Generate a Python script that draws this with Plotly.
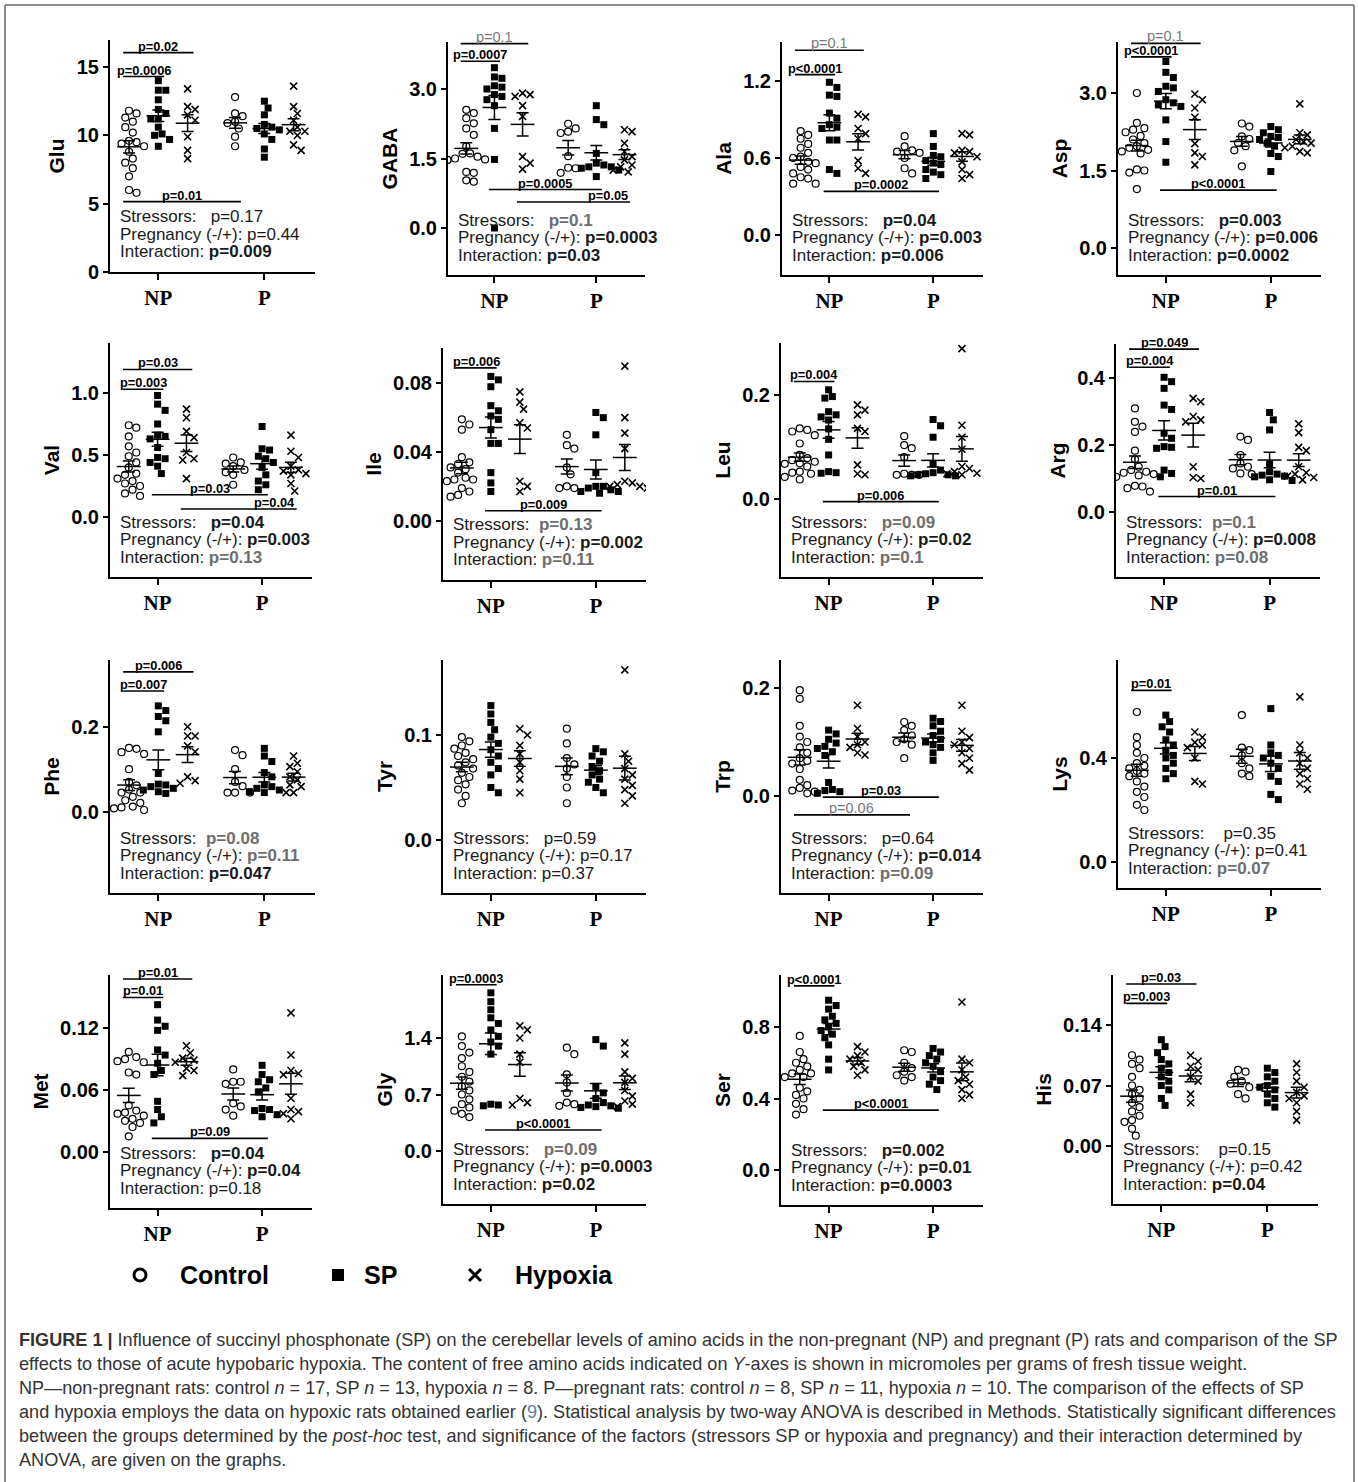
import numpy as np
import plotly.graph_objects as go

W, H = 1358, 1482
SANS = "Liberation Sans, Arial, sans-serif"
SERIF = "Liberation Serif, Times New Roman, serif"

# ---------------- categories / groups ----------------
GROUP_NAMES = ["NP Control", "NP SP", "NP Hypoxia", "P Control", "P SP", "P Hypoxia"]
GROUP_POS = [-1.0, 0.0, 1.0, 2.62, 3.62, 4.62]
CATEGORY_POS = [0.0, 3.62]
CATEGORY_LABELS = ["NP", "P"]
X_RANGE = [-1.65, 5.35]
AMINO = ["Glu", "GABA", "Ala", "Asp", "Val", "Ile", "Leu", "Arg",
         "Phe", "Tyr", "Trp", "Lys", "Met", "Gly", "Ser", "His"]

# ---------------- data: [NP ctrl, NP SP, NP hyp, P ctrl, P SP, P hyp] ----------------
glu = [
    [11.8, 11.6, 11.3, 11.0, 10.6, 10.2, 9.6, 9.5, 9.4, 9.2, 8.8, 8.3, 8.0, 7.6, 7.0, 6.0, 5.8],
    [14.0, 13.3, 13.3, 12.6, 11.9, 11.6, 11.2, 11.2, 10.6, 10.1, 10.0, 9.7, 9.2],
    [13.4, 12.1, 11.9, 11.5, 11.1, 9.9, 8.9, 8.3],
    [12.8, 11.6, 11.4, 11.0, 10.9, 10.5, 9.9, 9.2],
    [12.5, 12.0, 11.5, 10.8, 10.6, 10.5, 10.4, 10.1, 9.7, 9.0, 8.4],
    [13.6, 12.1, 11.6, 11.1, 10.6, 10.3, 10.3, 10.0, 9.3, 8.9],
]
gaba = [
    [2.55, 2.48, 2.37, 2.26, 2.15, 2.01, 1.76, 1.61, 1.60, 1.54, 1.50, 1.48, 1.47, 1.21, 1.19, 1.03, 1.00],
    [3.46, 3.26, 3.23, 3.07, 3.04, 3.00, 2.88, 2.84, 2.77, 2.64, 2.15, 1.48, 0.0],
    [2.91, 2.88, 2.84, 2.64, 2.41, 1.54, 1.40, 1.27],
    [2.25, 2.15, 2.08, 2.05, 1.55, 1.30, 1.29, 1.19],
    [2.64, 2.34, 2.23, 1.61, 1.40, 1.36, 1.32, 1.32, 1.29, 1.25, 1.11],
    [2.12, 2.08, 1.83, 1.65, 1.54, 1.47, 1.36, 1.32, 1.25, 1.21],
]
ala = [
    [0.81, 0.78, 0.75, 0.71, 0.68, 0.64, 0.61, 0.60, 0.57, 0.56, 0.53, 0.51, 0.48, 0.45, 0.44, 0.40, 0.40],
    [1.19, 1.15, 1.09, 1.08, 0.95, 0.91, 0.86, 0.84, 0.83, 0.74, 0.74, 0.51, 0.48],
    [0.94, 0.92, 0.83, 0.79, 0.75, 0.58, 0.52, 0.48],
    [0.77, 0.69, 0.66, 0.65, 0.64, 0.60, 0.52, 0.48],
    [0.79, 0.69, 0.62, 0.61, 0.58, 0.56, 0.55, 0.51, 0.49, 0.47, 0.44],
    [0.79, 0.78, 0.66, 0.65, 0.64, 0.61, 0.57, 0.51, 0.47, 0.44],
]
asp = [
    [3.00, 2.42, 2.32, 2.29, 2.24, 2.17, 2.10, 2.03, 1.97, 1.94, 1.90, 1.87, 1.83, 1.52, 1.50, 1.46, 1.14],
    [3.61, 3.40, 3.30, 3.13, 3.10, 3.03, 2.87, 2.81, 2.77, 2.74, 2.48, 2.06, 1.66],
    [2.98, 2.87, 2.71, 2.53, 2.02, 1.84, 1.77, 1.61],
    [2.41, 2.35, 2.16, 2.11, 2.03, 1.97, 1.89, 1.58],
    [2.35, 2.29, 2.23, 2.16, 2.14, 2.10, 2.03, 1.97, 1.83, 1.77, 1.48],
    [2.79, 2.23, 2.19, 2.10, 2.06, 2.03, 1.97, 1.94, 1.87, 1.84],
]
val = [
    [0.74, 0.72, 0.65, 0.57, 0.52, 0.49, 0.44, 0.40, 0.35, 0.34, 0.31, 0.29, 0.27, 0.25, 0.22, 0.19, 0.17],
    [0.98, 0.91, 0.86, 0.75, 0.66, 0.65, 0.63, 0.56, 0.48, 0.47, 0.44, 0.41, 0.35],
    [0.87, 0.80, 0.69, 0.64, 0.52, 0.47, 0.46, 0.31],
    [0.48, 0.44, 0.43, 0.41, 0.38, 0.36, 0.34, 0.26],
    [0.73, 0.55, 0.54, 0.49, 0.47, 0.44, 0.40, 0.34, 0.29, 0.26, 0.22],
    [0.66, 0.53, 0.48, 0.41, 0.38, 0.37, 0.35, 0.34, 0.27, 0.21],
]
ile = [
    [0.059, 0.056, 0.053, 0.037, 0.034, 0.033, 0.031, 0.030, 0.028, 0.025, 0.024, 0.024, 0.023, 0.019, 0.017, 0.015, 0.014],
    [0.084, 0.082, 0.078, 0.067, 0.064, 0.061, 0.059, 0.053, 0.045, 0.045, 0.028, 0.022, 0.017],
    [0.075, 0.069, 0.065, 0.057, 0.054, 0.023, 0.020, 0.017],
    [0.050, 0.044, 0.042, 0.031, 0.027, 0.020, 0.019, 0.019],
    [0.063, 0.060, 0.050, 0.028, 0.020, 0.020, 0.019, 0.018, 0.017, 0.017, 0.016],
    [0.090, 0.060, 0.051, 0.042, 0.023, 0.022, 0.021, 0.020, 0.020, 0.019],
]
leu = [
    [0.136, 0.133, 0.130, 0.123, 0.107, 0.085, 0.079, 0.075, 0.072, 0.069, 0.068, 0.063, 0.053, 0.051, 0.049, 0.043, 0.038],
    [0.210, 0.197, 0.194, 0.168, 0.162, 0.158, 0.152, 0.135, 0.115, 0.085, 0.053, 0.051, 0.050],
    [0.181, 0.171, 0.162, 0.136, 0.130, 0.066, 0.049, 0.047],
    [0.121, 0.104, 0.098, 0.081, 0.049, 0.047, 0.047, 0.047],
    [0.153, 0.141, 0.119, 0.068, 0.056, 0.051, 0.049, 0.047, 0.047, 0.045, 0.045],
    [0.289, 0.142, 0.119, 0.096, 0.063, 0.059, 0.053, 0.050, 0.049, 0.047],
]
arg = [
    [0.310, 0.270, 0.256, 0.240, 0.184, 0.158, 0.136, 0.126, 0.121, 0.118, 0.114, 0.110, 0.106, 0.079, 0.077, 0.072, 0.062],
    [0.403, 0.390, 0.370, 0.320, 0.307, 0.236, 0.221, 0.196, 0.194, 0.191, 0.126, 0.116, 0.106],
    [0.340, 0.330, 0.286, 0.276, 0.270, 0.136, 0.104, 0.101],
    [0.226, 0.216, 0.171, 0.146, 0.136, 0.131, 0.116, 0.114],
    [0.298, 0.276, 0.246, 0.144, 0.121, 0.114, 0.111, 0.108, 0.106, 0.097, 0.095],
    [0.264, 0.238, 0.194, 0.184, 0.136, 0.118, 0.114, 0.108, 0.104, 0.097],
]
phe = [
    [0.150, 0.148, 0.140, 0.136, 0.100, 0.070, 0.062, 0.052, 0.045, 0.045, 0.035, 0.027, 0.021, 0.012, 0.010, 0.008, 0.004],
    [0.249, 0.238, 0.224, 0.214, 0.188, 0.090, 0.065, 0.063, 0.059, 0.055, 0.051, 0.047, 0.043],
    [0.200, 0.178, 0.178, 0.155, 0.141, 0.082, 0.073, 0.067],
    [0.145, 0.133, 0.100, 0.070, 0.060, 0.045, 0.045, 0.045],
    [0.149, 0.131, 0.118, 0.092, 0.082, 0.063, 0.059, 0.055, 0.051, 0.047, 0.045],
    [0.131, 0.114, 0.106, 0.094, 0.082, 0.075, 0.063, 0.059, 0.045, 0.045],
]
tyr = [
    [0.098, 0.094, 0.090, 0.087, 0.083, 0.080, 0.077, 0.074, 0.071, 0.068, 0.064, 0.060, 0.057, 0.053, 0.048, 0.042, 0.035],
    [0.128, 0.120, 0.112, 0.105, 0.098, 0.092, 0.086, 0.080, 0.074, 0.068, 0.062, 0.050, 0.045],
    [0.106, 0.100, 0.090, 0.082, 0.074, 0.066, 0.058, 0.045],
    [0.106, 0.092, 0.078, 0.072, 0.068, 0.060, 0.050, 0.035],
    [0.087, 0.084, 0.080, 0.075, 0.070, 0.066, 0.062, 0.058, 0.055, 0.050, 0.045],
    [0.162, 0.082, 0.075, 0.068, 0.062, 0.058, 0.052, 0.048, 0.042, 0.035],
]
trp = [
    [0.196, 0.180, 0.130, 0.110, 0.100, 0.090, 0.080, 0.070, 0.065, 0.060, 0.050, 0.030, 0.020, 0.015, 0.010, 0.008, 0.005],
    [0.122, 0.115, 0.105, 0.098, 0.092, 0.088, 0.082, 0.075, 0.025, 0.012, 0.010, 0.008, 0.005],
    [0.168, 0.125, 0.110, 0.100, 0.095, 0.090, 0.080, 0.076],
    [0.137, 0.130, 0.122, 0.112, 0.105, 0.100, 0.095, 0.070],
    [0.144, 0.138, 0.130, 0.120, 0.112, 0.105, 0.100, 0.095, 0.090, 0.080, 0.066],
    [0.168, 0.120, 0.108, 0.100, 0.095, 0.088, 0.080, 0.070, 0.060, 0.048],
]
lys = [
    [0.577, 0.48, 0.45, 0.42, 0.40, 0.38, 0.37, 0.36, 0.35, 0.34, 0.33, 0.31, 0.29, 0.27, 0.25, 0.22, 0.20],
    [0.565, 0.54, 0.52, 0.50, 0.47, 0.45, 0.43, 0.41, 0.40, 0.38, 0.36, 0.34, 0.32],
    [0.50, 0.48, 0.46, 0.45, 0.44, 0.40, 0.31, 0.30],
    [0.565, 0.44, 0.43, 0.41, 0.38, 0.36, 0.34, 0.33],
    [0.59, 0.45, 0.42, 0.41, 0.40, 0.38, 0.36, 0.33, 0.31, 0.26, 0.24],
    [0.635, 0.45, 0.42, 0.40, 0.38, 0.36, 0.34, 0.32, 0.30, 0.28],
]
met = [
    [0.097, 0.092, 0.090, 0.088, 0.087, 0.077, 0.075, 0.045, 0.040, 0.038, 0.037, 0.035, 0.032, 0.030, 0.028, 0.024, 0.015],
    [0.143, 0.128, 0.122, 0.118, 0.099, 0.094, 0.086, 0.079, 0.075, 0.049, 0.041, 0.034, 0.028],
    [0.103, 0.096, 0.091, 0.089, 0.087, 0.081, 0.079, 0.074],
    [0.080, 0.068, 0.068, 0.066, 0.047, 0.044, 0.041, 0.035],
    [0.084, 0.075, 0.070, 0.068, 0.062, 0.058, 0.042, 0.041, 0.040, 0.036, 0.034],
    [0.135, 0.094, 0.079, 0.076, 0.075, 0.052, 0.041, 0.039, 0.037, 0.032],
]
gly = [
    [1.42, 1.30, 1.22, 1.15, 1.05, 0.98, 0.92, 0.86, 0.80, 0.75, 0.70, 0.64, 0.58, 0.54, 0.50, 0.46, 0.42],
    [1.96, 1.85, 1.75, 1.65, 1.58, 1.50, 1.42, 1.35, 1.30, 1.20, 0.58, 0.57, 0.56],
    [1.55, 1.50, 1.40, 1.20, 1.10, 0.65, 0.60, 0.57],
    [1.28, 1.20, 0.95, 0.85, 0.72, 0.60, 0.58, 0.56],
    [1.38, 1.30, 0.80, 0.72, 0.65, 0.60, 0.57, 0.56, 0.55, 0.54, 0.53],
    [1.34, 1.20, 0.98, 0.90, 0.85, 0.75, 0.68, 0.62, 0.58, 0.55],
]
ser = [
    [0.75, 0.66, 0.62, 0.60, 0.58, 0.56, 0.54, 0.54, 0.52, 0.52, 0.46, 0.44, 0.42, 0.40, 0.37, 0.34, 0.31],
    [0.95, 0.92, 0.90, 0.86, 0.84, 0.82, 0.80, 0.78, 0.76, 0.74, 0.70, 0.62, 0.56],
    [0.69, 0.66, 0.64, 0.62, 0.60, 0.58, 0.56, 0.53],
    [0.67, 0.66, 0.60, 0.57, 0.55, 0.53, 0.52, 0.50],
    [0.68, 0.66, 0.64, 0.62, 0.60, 0.58, 0.55, 0.52, 0.50, 0.48, 0.45],
    [0.94, 0.62, 0.60, 0.56, 0.52, 0.50, 0.48, 0.45, 0.42, 0.40],
]
his = [
    [0.105, 0.100, 0.095, 0.090, 0.080, 0.070, 0.065, 0.060, 0.055, 0.050, 0.045, 0.040, 0.035, 0.030, 0.028, 0.020, 0.012],
    [0.123, 0.115, 0.108, 0.100, 0.095, 0.090, 0.085, 0.080, 0.075, 0.070, 0.065, 0.055, 0.047],
    [0.105, 0.098, 0.092, 0.088, 0.080, 0.075, 0.060, 0.050],
    [0.088, 0.086, 0.080, 0.075, 0.072, 0.068, 0.060, 0.055],
    [0.090, 0.085, 0.080, 0.075, 0.070, 0.068, 0.065, 0.060, 0.055, 0.050, 0.045],
    [0.095, 0.085, 0.075, 0.068, 0.062, 0.058, 0.055, 0.050, 0.040, 0.030],
]
DATA = [glu, gaba, ala, asp, val, ile, leu, arg, phe, tyr, trp, lys, met, gly, ser, his]

# y tick values / labels
TICK_VALS = [[0, 5, 10, 15], [0, 1.5, 3.0], [0, 0.6, 1.2], [0, 1.5, 3.0],
             [0, 0.5, 1.0], [0, 0.04, 0.08], [0, 0.2], [0, 0.2, 0.4],
             [0, 0.2], [0, 0.1], [0, 0.2], [0, 0.4],
             [0, 0.06, 0.12], [0, 0.7, 1.4], [0, 0.4, 0.8], [0, 0.07, 0.14]]
TICK_TEXT = [["0", "5", "10", "15"], ["0.0", "1.5", "3.0"], ["0.0", "0.6", "1.2"], ["0.0", "1.5", "3.0"],
             ["0.0", "0.5", "1.0"], ["0.00", "0.04", "0.08"], ["0.0", "0.2"], ["0.0", "0.2", "0.4"],
             ["0.0", "0.2"], ["0.0", "0.1"], ["0.0", "0.2"], ["0.0", "0.4"],
             ["0.00", "0.06", "0.12"], ["0.0", "0.7", "1.4"], ["0.0", "0.4", "0.8"], ["0.00", "0.07", "0.14"]]

# ANOVA p-values: (stressors, pregnancy, interaction); style n=normal, b=bold, g=gray trend
ANOVA_P = [("p=0.17", "p=0.44", "p=0.009"), ("p=0.1", "p=0.0003", "p=0.03"),
           ("p=0.04", "p=0.003", "p=0.006"), ("p=0.003", "p=0.006", "p=0.0002"),
           ("p=0.04", "p=0.003", "p=0.13"), ("p=0.13", "p=0.002", "p=0.11"),
           ("p=0.09", "p=0.02", "p=0.1"), ("p=0.1", "p=0.008", "p=0.08"),
           ("p=0.08", "p=0.11", "p=0.047"), ("p=0.59", "p=0.17", "p=0.37"),
           ("p=0.64", "p=0.014", "p=0.09"), ("p=0.35", "p=0.41", "p=0.07"),
           ("p=0.04", "p=0.04", "p=0.18"), ("p=0.09", "p=0.0003", "p=0.02"),
           ("p=0.002", "p=0.01", "p=0.0003"), ("p=0.15", "p=0.42", "p=0.04")]
ANOVA_STYLE = ["nnb", "gbb", "bbb", "bbb", "bbg", "gbg", "gbg", "gbg",
               "ggb", "nnn", "nbg", "nng", "bbn", "gbb", "bbb", "nnb"]
STRESS_GAP = [3, 3, 3, 3, 3, 2, 3, 2, 2, 3, 3, 4, 3, 3, 3, 4]

# post-hoc comparisons: (group a, group b, y level, label, style, label alignment)
BRACKETS = [
    [(0, 2, 16.05, "p=0.02", "b", "c"), (0, 1, 14.3, "p=0.0006", "b", "c"), (0, 3, 5.15, "p=0.01", "b", "c")],
    [(0, 2, 3.98, "p=0.1", "g", "c"), (0, 1, 3.6, "p=0.0007", "b", "c"), (1, 4, 0.83, "p=0.0005", "b", "c"), (2, 5, 0.56, "p=0.05", "b", "r")],
    [(0, 2, 1.44, "p=0.1", "g", "c"), (0, 1, 1.25, "p<0.0001", "b", "c"), (1, 4, 0.34, "p=0.0002", "b", "c")],
    [(0, 2, 3.96, "p=0.1", "g", "c"), (0, 1, 3.70, "p<0.0001", "b", "c"), (1, 4, 1.12, "p<0.0001", "b", "c")],
    [(0, 2, 1.19, "p=0.03", "b", "c"), (0, 1, 1.03, "p=0.003", "b", "c"), (1, 4, 0.18, "p=0.03", "b", "c"), (2, 5, 0.065, "p=0.04", "b", "r")],
    [(0, 1, 0.089, "p=0.006", "b", "c"), (1, 4, 0.0058, "p=0.009", "b", "c")],
    [(0, 1, 0.226, "p=0.004", "b", "c"), (1, 4, -0.0045, "p=0.006", "b", "c")],
    [(0, 2, 0.487, "p=0.049", "b", "c"), (0, 1, 0.433, "p=0.004", "b", "c"), (1, 4, 0.047, "p=0.01", "b", "c")],
    [(0, 2, 0.329, "p=0.006", "b", "c"), (0, 1, 0.284, "p=0.007", "b", "c")],
    [],
    [(1, 4, -0.002, "p=0.03", "b", "c"), (0, 3, -0.035, "p=0.06", "g", "c")],
    [(0, 1, 0.66, "p=0.01", "b", "c")],
    [(0, 2, 0.168, "p=0.01", "b", "c"), (0, 1, 0.150, "p=0.01", "b", "c"), (1, 4, 0.013, "p=0.09", "b", "c")],
    [(0, 1, 2.06, "p=0.0003", "b", "c"), (1, 4, 0.26, "p<0.0001", "b", "c")],
    [(0, 1, 1.03, "p<0.0001", "b", "c"), (1, 4, 0.335, "p<0.0001", "b", "c")],
    [(0, 2, 0.1875, "p=0.03", "b", "c"), (0, 1, 0.165, "p=0.003", "b", "c")],
]

# ---------------- layout geometry (pixels): left, right, top, bottom, tick calibration ----------------
GEOM = [
    (110, 315, 40, 272, 15, 67, 0, 272), (448, 645, 42, 275, 3.0, 89, 0, 228),
    (782, 983, 42, 275, 1.2, 81, 0, 235), (1118, 1321, 42, 275, 3.0, 93, 0, 248),
    (110, 312, 343, 577, 1.0, 393, 0, 517), (443, 646, 348, 580, 0.08, 383.3, 0, 520.7),
    (781, 983, 343, 577, 0.2, 395, 0, 499.3), (1116, 1320, 344, 577, 0.4, 378.3, 0, 512.3),
    (110, 315, 660, 893, 0.2, 726.7, 0, 811.7), (443, 646, 660, 893, 0.1, 735, 0, 840),
    (781, 983, 660, 893, 0.2, 688, 0, 796), (1118, 1321, 660, 888, 0.4, 758, 0, 862),
    (110, 312, 975, 1208, 0.12, 1028.3, 0, 1151.7), (443, 646, 975, 1204, 1.4, 1038, 0, 1151),
    (781, 983, 975, 1205, 0.8, 1027, 0, 1170), (1113, 1318, 975, 1204, 0.14, 1025, 0, 1146),
]

MARKERS = [dict(symbol="circle-open", size=7, color="black", line=dict(width=1.2, color="black")),
           dict(symbol="square", size=7, color="black", line=dict(width=0)),
           dict(symbol="x-thin-open", size=7, color="black", line=dict(width=1.6, color="black"))]


def swarm(vals, ppu_y, ppu_x, d=7.5):
    vals = np.asarray(vals, dtype=float)
    order = np.argsort(-vals, kind="stable")
    placed = []
    offs = np.zeros(len(vals))
    step = d / 2.0
    for i in order:
        y = vals[i] * ppu_y
        for k in range(0, 40):
            cand = 0.0 if k == 0 else ((k + 1) // 2) * step * (1 if k % 2 else -1)
            if all((cand - px) ** 2 + (y - py) ** 2 >= d * d for px, py in placed):
                break
        placed.append((cand, y))
        offs[i] = cand / ppu_x
    return offs


fig = go.Figure()
annotations = []
shapes = []
layout_axes = {}

STYLE_FMT = {"n": "{}", "b": "<b>{}</b>", "g": "<b><span style='color:#6e6e6e'>{}</span></b>"}

for i, name in enumerate(AMINO):
    L, R, T, B, va, pa, vb, pb = GEOM[i]
    ppu = (pb - pa) / (va - vb)
    ymax = va + (pa - T) / ppu
    ymin = vb - (B - pb) / ppu
    ppx = (R - L) / (X_RANGE[1] - X_RANGE[0])
    sfx = "" if i == 0 else str(i + 1)
    xr, yr = "x" + sfx, "y" + sfx
    groups = DATA[i]
    for g, vals in enumerate(groups):
        offs = swarm(vals, ppu, ppx)
        fig.add_trace(go.Scatter(x=GROUP_POS[g] + offs, y=vals, xaxis=xr, yaxis=yr, mode="markers",
                                 marker=MARKERS[g % 3], showlegend=False, hoverinfo="skip",
                                 name=GROUP_NAMES[g]))
    means = [float(np.mean(v)) for v in groups]
    sems = [float(np.std(v, ddof=1) / np.sqrt(len(v))) for v in groups]
    fig.add_trace(go.Scatter(x=GROUP_POS, y=means, xaxis=xr, yaxis=yr, mode="markers",
                             marker=dict(symbol="line-ew", size=17, color="black",
                                         line=dict(width=1.5, color="black")),
                             error_y=dict(type="data", array=sems, visible=True, color="black",
                                          thickness=1.5, width=6),
                             showlegend=False, hoverinfo="skip"))
    layout_axes["xaxis" + sfx] = dict(
        domain=[L / W, R / W], range=X_RANGE, anchor=yr, showline=True, linecolor="black",
        linewidth=2, ticks="outside", ticklen=6, tickwidth=2, tickcolor="black",
        tickvals=CATEGORY_POS, ticktext=CATEGORY_LABELS, showgrid=False, zeroline=False,
        tickfont=dict(family=SERIF, size=21, color="black", weight="bold"), automargin=False,
        fixedrange=True)
    layout_axes["yaxis" + sfx] = dict(
        domain=[1 - B / H, 1 - T / H], range=[ymin, ymax], anchor=xr, showline=True,
        linecolor="black", linewidth=2, ticks="outside", ticklen=5, tickwidth=2, tickcolor="black",
        tickvals=TICK_VALS[i], ticktext=TICK_TEXT[i], showgrid=False, zeroline=False,
        tickfont=dict(family=SANS, size=20, color="black", weight="bold"),
        title=dict(text=name, font=dict(family=SANS, size=21, color="black", weight="bold"), standoff=6),
        automargin=False, fixedrange=True)

    # post-hoc brackets
    for (ga, gb, yl, lab, st, al) in BRACKETS[i]:
        x0 = GROUP_POS[ga] - 0.2
        x1 = GROUP_POS[gb] + 0.2
        shapes.append(dict(type="line", xref=xr, yref=yr, x0=x0, x1=x1, y0=yl, y1=yl,
                           line=dict(color="black", width=1.6)))
        if st == "g":
            font = dict(family=SANS, size=14.5, color="#777777")
        else:
            font = dict(family=SANS, size=12.8, color="black", weight="bold")
        if al == "r":
            annotations.append(dict(xref=xr, yref=yr, x=x1, y=yl, text=lab, showarrow=False,
                                    xanchor="right", yanchor="bottom", yshift=-3, font=font))
        else:
            annotations.append(dict(xref=xr, yref=yr, x=(x0 + x1) / 2, y=yl, text=lab, showarrow=False,
                                    xanchor="center", yanchor="bottom", yshift=-3, font=font))

    # ANOVA summary
    labels = ["Stressors:" + "&nbsp;" * STRESS_GAP[i], "Pregnancy (-/+): ", "Interaction: "]
    offsets = [55, 37.5, 20]
    for k in range(3):
        txt = labels[k] + STYLE_FMT[ANOVA_STYLE[i][k]].format(ANOVA_P[i][k])
        annotations.append(dict(xref=xr + " domain", yref=yr + " domain", x=8 / (R - L),
                                y=offsets[k] / (B - T), text=txt, showarrow=False,
                                xanchor="left", yanchor="middle",
                                font=dict(family=SANS, size=17, color="#1a1a1a")))

# ---------------- legend (drawn) ----------------
def px(x):
    return x / W


def py(y):
    return 1 - y / H


LEG_Y = 1275
shapes.append(dict(type="circle", xref="paper", yref="paper", x0=px(134), x1=px(146),
                   y0=py(LEG_Y + 6), y1=py(LEG_Y - 6), line=dict(color="black", width=3)))
shapes.append(dict(type="rect", xref="paper", yref="paper", x0=px(332), x1=px(344),
                   y0=py(LEG_Y + 6), y1=py(LEG_Y - 6), fillcolor="black", line=dict(width=0)))
shapes.append(dict(type="line", xref="paper", yref="paper", x0=px(469), x1=px(481),
                   y0=py(LEG_Y - 6), y1=py(LEG_Y + 6), line=dict(color="black", width=3)))
shapes.append(dict(type="line", xref="paper", yref="paper", x0=px(469), x1=px(481),
                   y0=py(LEG_Y + 6), y1=py(LEG_Y - 6), line=dict(color="black", width=3)))
for xt, t in [(178, "Control"), (362, "SP"), (513, "Hypoxia")]:
    annotations.append(dict(xref="paper", yref="paper", x=px(xt), y=py(LEG_Y), text=t,
                            showarrow=False, xanchor="left", yanchor="middle",
                            font=dict(family=SANS, size=25, color="black", weight="bold")))

# ---------------- caption ----------------
CAPTION = [
    "<b>FIGURE 1 |</b> Influence of succinyl phosphonate (SP) on the cerebellar levels of amino acids in the non-pregnant (NP) and pregnant (P) rats and comparison of the SP",
    "effects to those of acute hypobaric hypoxia. The content of free amino acids indicated on <i>Y</i>-axes is shown in micromoles per grams of fresh tissue weight.",
    "NP\u2014non-pregnant rats: control <i>n</i> = 17, SP <i>n</i> = 13, hypoxia <i>n</i> = 8. P\u2014pregnant rats: control <i>n</i> = 8, SP <i>n</i> = 11, hypoxia <i>n</i> = 10. The comparison of the effects of SP",
    "and hypoxia employs the data on hypoxic rats obtained earlier (<span style='color:#5b7fa6'>9</span>). Statistical analysis by two-way ANOVA is described in Methods. Statistically significant differences",
    "between the groups determined by the <i>post-hoc</i> test, and significance of the factors (stressors SP or hypoxia and pregnancy) and their interaction determined by",
    "ANOVA, are given on the graphs.",
]
CAP_Y = [1340, 1364, 1388, 1412, 1436, 1460]
for t, yv in zip(CAPTION, CAP_Y):
    annotations.append(dict(xref="paper", yref="paper", x=px(17), y=py(yv), text=t, showarrow=False,
                            xanchor="left", yanchor="middle",
                            font=dict(family=SANS, size=18.1, color="#333333")))

# frame
for (x0, y0, x1, y1) in [(5, 5, 1354, 5), (5, 5, 5, 1482), (1354, 5, 1354, 1482)]:
    shapes.append(dict(type="line", xref="paper", yref="paper", x0=px(x0), x1=px(x1),
                       y0=py(y0), y1=py(y1), line=dict(color="#8c8c8c", width=2)))

fig.update_layout(width=W, height=H, margin=dict(l=0, r=0, t=0, b=0), autosize=False,
                  paper_bgcolor="white", plot_bgcolor="white", showlegend=False,
                  hovermode=False, annotations=annotations, shapes=shapes, **layout_axes)
fig.write_html("out.html", config={"displayModeBar": False, "staticPlot": True},
               post_script="document.body.style.margin='0px';document.body.style.overflow='hidden';")
